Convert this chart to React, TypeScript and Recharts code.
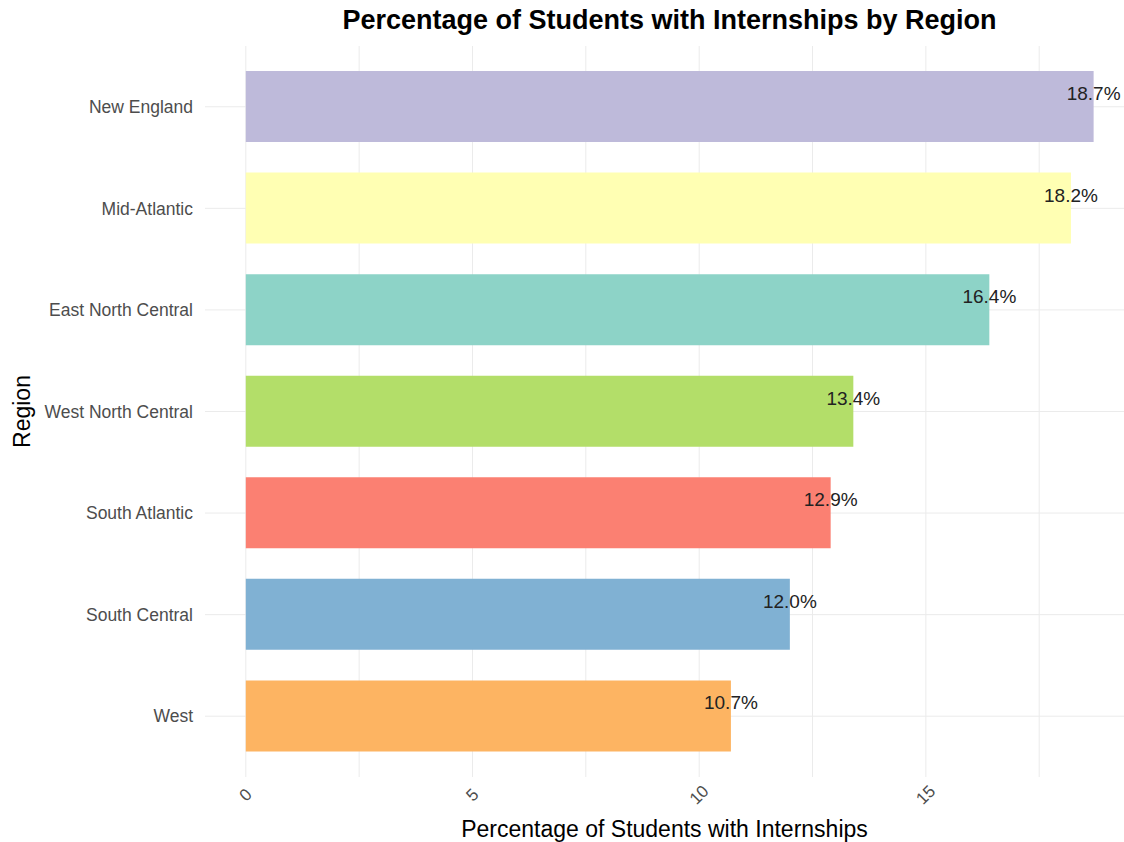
import { Bar, BarChart, CartesianGrid, Cell, LabelList, XAxis, YAxis } from 'recharts';

const regions = [
  'New England',
  'Mid-Atlantic',
  'East North Central',
  'West North Central',
  'South Atlantic',
  'South Central',
  'West',
];
const internshipPct = [18.7, 18.2, 16.4, 13.4, 12.9, 12.0, 10.7];
const regionColors = ['#BEBADA', '#FFFFB3', '#8DD3C7', '#B3DE69', '#FB8072', '#80B1D3', '#FDB462'];
// labelled ticks, and all gridline positions (major + minor)
const xTicks = [0, 5, 10, 15];
const xGridValues = [0, 2.5, 5, 7.5, 10, 12.5, 15, 17.5];

const data = regions.map((region, i) => ({ region, pct: internshipPct[i] }));

const FONT = '"Liberation Sans", Arial, Helvetica, sans-serif';

function XTick({ x, y, payload }: any) {
  if (!xTicks.includes(payload.value)) return null;
  const ty = y + 16;
  return (
    <text
      x={x}
      y={ty}
      transform={`rotate(-45, ${x}, ${ty})`}
      textAnchor="middle"
      dominantBaseline="central"
      fontSize={17}
      fill="#4d4d4d"
      fontFamily={FONT}
    >
      {payload.value}
    </text>
  );
}

function ValueLabel({ x, y, width, height, value }: any) {
  return (
    <text
      x={x + width}
      y={y + height / 2 - 13}
      textAnchor="middle"
      dominantBaseline="central"
      fontSize={19}
      fill="#222"
      fontFamily={FONT}
    >
      {`${Number(value).toFixed(1)}%`}
    </text>
  );
}

function RegionLabel({ viewBox }: any) {
  const cy = viewBox.y + viewBox.height / 2;
  return (
    <text
      x={22}
      y={cy}
      transform={`rotate(-90, 22, ${cy})`}
      textAnchor="middle"
      dominantBaseline="central"
      fontSize={23}
      fill="#000"
      fontFamily={FONT}
    >
      Region
    </text>
  );
}

export default function App() {
  return (
    <div
      style={{
        position: 'absolute',
        left: 0,
        top: 0,
        width: 1124,
        height: 842,
        overflow: 'hidden',
        background: '#fff',
        fontFamily: FONT,
      }}
    >
      <div
        style={{
          position: 'absolute',
          top: 5,
          left: 205,
          width: 929,
          textAlign: 'center',
          fontSize: 27,
          fontWeight: 'bold',
          color: '#000',
        }}
      >
        Percentage of Students with Internships by Region
      </div>
      <BarChart
        width={1124}
        height={842}
        data={data}
        layout="vertical"
        margin={{ top: 46, right: 0, left: 0, bottom: 0 }}
        barCategoryGap={0}
      >
        <CartesianGrid stroke="#ebebeb" syncWithTicks />
        <XAxis
          type="number"
          domain={[-0.9, 19.37]}
          allowDataOverflow
          ticks={xGridValues}
          interval={0}
          height={65}
          tickLine={false}
          axisLine={false}
          tickSize={0}
          tick={<XTick />}
          label={{
            value: 'Percentage of Students with Internships',
            position: 'insideBottom',
            offset: 5,
            fontSize: 23,
            fill: '#000',
            fontFamily: FONT,
          }}
        />
        <YAxis
          type="category"
          dataKey="region"
          width={205}
          padding={{ top: 10, bottom: 10 }}
          tickLine={false}
          axisLine={false}
          tickSize={0}
          tickMargin={12}
          tick={{ fontSize: 17.5, fill: '#4d4d4d', fontFamily: FONT }}
          label={<RegionLabel />}
        />
        <Bar dataKey="pct" barSize={71} isAnimationActive={false}>
          {data.map((d, i) => (
            <Cell key={d.region} fill={regionColors[i]} />
          ))}
          <LabelList dataKey="pct" content={<ValueLabel />} />
        </Bar>
      </BarChart>
    </div>
  );
}
